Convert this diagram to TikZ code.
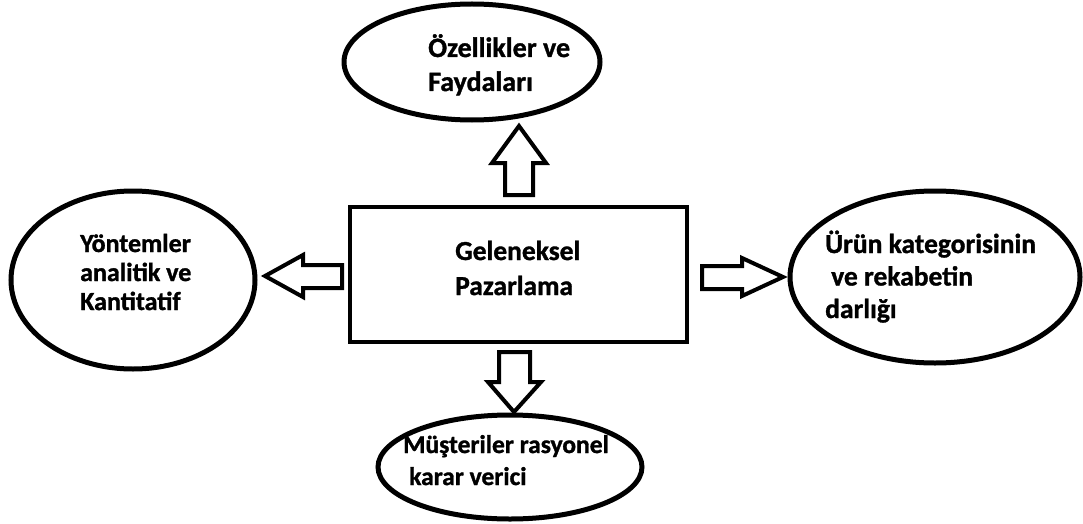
\documentclass[tikz,border=0pt]{standalone}
\usepackage{fontspec}
\setmainfont{Carlito}[BoldFont={Carlito Bold}, BoldFeatures={FakeBold=1.2}]
\usetikzlibrary{shapes.geometric}
\tikzset{
  oval/.style={draw=black, line width=5pt, ellipse, inner sep=0pt},
  box/.style={draw=black, line width=3.5pt},
  blockarrow/.style={draw=black, line width=4pt, line join=miter, fill=white},
  lbl/.style={align=left, inner sep=0pt, anchor=base west},
  fs/.style 2 args={font=\bfseries\fontsize{#1}{#2}\selectfont}
}
\begin{document}
\begin{tikzpicture}[x=1pt,y=-1pt]
\useasboundingbox (0,0) rectangle (1083,524);
% central box
\draw[box] (350,207) rectangle (687,342);
\node[lbl, fs={27.5}{35}] (center) at (455,295) {Geleneksel\\Pazarlama};
% ellipses
\node[oval, minimum width=256pt, minimum height=116pt] (top) at (472,62) {};
\node[oval, minimum width=244pt, minimum height=178pt] (left) at (133,280) {};
\node[oval, minimum width=290pt, minimum height=172pt] (right) at (935,277) {};
\node[oval, minimum width=264pt, minimum height=104pt] (bottom) at (510,467) {};
% labels (anchor = baseline of last line)
\node[lbl, fs={28}{34}] (ttop) at (428,91) {Özellikler ve\\Faydaları};
\node[lbl, fs={26}{29}] (tleft) at (80,310) {Yöntemler\\analitik ve\\Kantitatif};
\node[lbl, fs={27.5}{32.5}] (tright) at (825,318) {Ürün kategorisinin\\\hspace*{6pt}ve rekabetin\\darlığı};
\node[lbl, fs={25.5}{32}] (tbottom) at (403,485) {Müşteriler rasyonel\\\hspace*{6pt}karar verici};
% block arrows
\draw[blockarrow] (519,126) -- (492,163) -- (505,163) -- (505,195) -- (533,195) -- (533,163) -- (546,163) -- cycle;
\draw[blockarrow] (265,276) -- (303,255) -- (303,265) -- (342,265) -- (342,288) -- (303,288) -- (303,297) -- cycle;
\draw[blockarrow] (702,266) -- (742,266) -- (742,258) -- (783,277) -- (742,296) -- (742,289) -- (702,289) -- cycle;
\draw[blockarrow] (499,352) -- (530,352) -- (530,382) -- (541,382) -- (514,412) -- (488,382) -- (499,382) -- cycle;
\end{tikzpicture}
\end{document}
